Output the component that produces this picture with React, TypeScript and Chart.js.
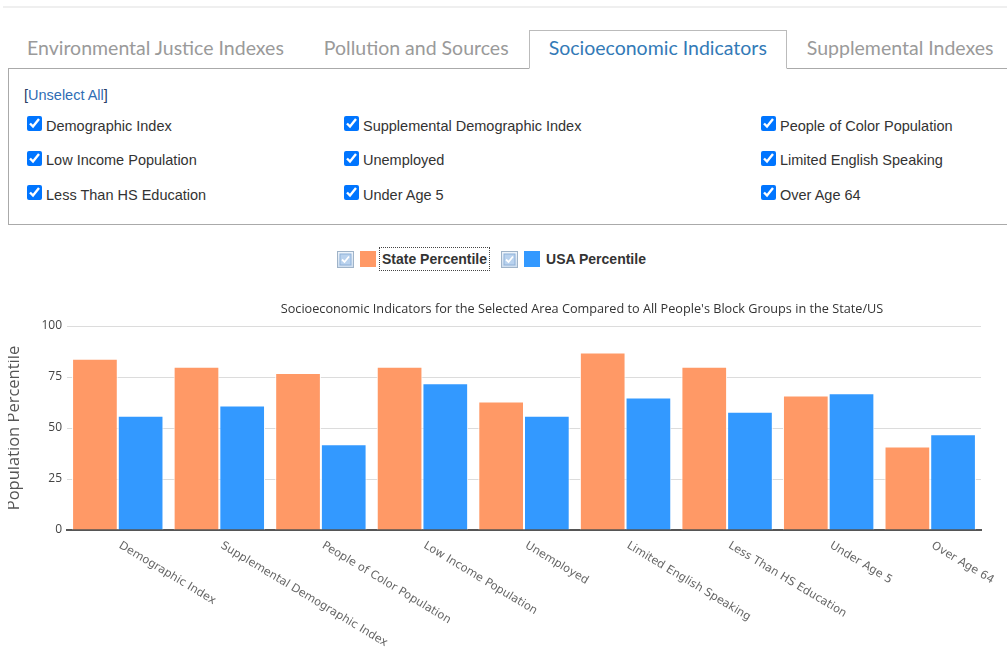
import React, { useEffect, useRef } from "react";
import { Chart, registerables } from "chart.js";

Chart.register(...registerables);

// ---------- data ----------
const categories = [
  "Demographic Index",
  "Supplemental Demographic Index",
  "People of Color Population",
  "Low Income Population",
  "Unemployed",
  "Limited English Speaking",
  "Less Than HS Education",
  "Under Age 5",
  "Over Age 64",
];
const statePercentile = [84, 80, 77, 80, 63, 87, 80, 66, 41];
const usaPercentile = [56, 61, 42, 72, 56, 65, 58, 67, 47];
const seriesNames = ["State Percentile", "USA Percentile"];
const seriesColors = ["#FF9966", "#3399FF"];
const yTicks = [0, 25, 50, 75, 100];
const chartTitle =
  "Socioeconomic Indicators for the Selected Area Compared to All People's Block Groups in the State/US";
const yAxisTitle = "Population Percentile";
const tabs = [
  "Environmental Justice Indexes",
  "Pollution and Sources",
  "Socioeconomic Indicators",
  "Supplemental Indexes",
];
const activeTab = "Socioeconomic Indicators";
const unselectLabel = "Unselect All";

// ---------- layout constants (HTML parts) ----------
const colX = [27, 344, 761];
const rowY = [116, 150.5, 185];

const rotatedLabels = {
  id: "rotatedLabels",
  afterDraw(chart: any) {
    const xs = chart.scales.x;
    const ctx = chart.ctx;
    ctx.save();
    ctx.font = '11.3px "DejaVu Sans"';
    ctx.fillStyle = "#666";
    ctx.textAlign = "left";
    ctx.textBaseline = "top";
    categories.forEach((label, i) => {
      const px = xs.getPixelForTick(i);
      ctx.save();
      ctx.translate(px + 5, xs.top + 10);
      ctx.rotate((31 * Math.PI) / 180);
      ctx.fillText(label, 0, 0);
      ctx.restore();
    });
    ctx.restore();
  },
};

function LegendCheck() {
  return (
    <span
      style={{
        display: "inline-block",
        width: 15,
        height: 15,
        border: "1px solid #9fb3c8",
        background: "linear-gradient(#eef4fb, #cfdff0)",
        position: "relative",
        boxSizing: "content-box",
      }}
    >
      <svg width="15" height="15" style={{ position: "absolute", left: 0, top: 0 }}>
        <rect x="2" y="2" width="11" height="11" fill="#b9d2ee" stroke="#8fb1d8" strokeWidth="1" />
        <polyline points="4,7.5 6.5,10 11,4.5" fill="none" stroke="#ffffff" strokeWidth="1.8" />
      </svg>
    </span>
  );
}

export default function App() {
  const ref = useRef<HTMLCanvasElement>(null);

  useEffect(() => {
    const chart = new Chart(ref.current as HTMLCanvasElement, {
      type: "bar",
      data: {
        labels: categories,
        datasets: [
          {
            label: seriesNames[0],
            data: statePercentile,
            backgroundColor: seriesColors[0],
            borderColor: "#ffffff",
            borderWidth: 1,
            categoryPercentage: 0.9,
            barPercentage: 1,
          },
          {
            label: seriesNames[1],
            data: usaPercentile,
            backgroundColor: seriesColors[1],
            borderColor: "#ffffff",
            borderWidth: 1,
            categoryPercentage: 0.9,
            barPercentage: 1,
          },
        ],
      },
      options: {
        responsive: true,
        maintainAspectRatio: false,
        animation: false,
        layout: { padding: 0 },
        plugins: {
          legend: { display: false },
          tooltip: { enabled: false },
          title: {
            display: true,
            text: chartTitle,
            color: "#333",
            font: { family: '"Open Sans"', size: 12.7, weight: "normal" },
            padding: { top: 16.5, bottom: 9.3 },
          },
        },
        scales: {
          x: {
            z: 1,
            grid: { display: false, drawTicks: false },
            border: { display: true, color: "#555", width: 2 },
            ticks: { display: false },
            afterFit(s: any) {
              s.height = 122;
            },
          },
          y: {
            min: 0,
            max: 100,
            afterBuildTicks(s: any) {
              s.ticks = yTicks.map((v) => ({ value: v }));
            },
            ticks: {
              padding: 5,
              color: "#444",
              font: { family: '"Open Sans"', size: 12 },
            },
            grid: { color: "#dcdcdc", lineWidth: 1, drawTicks: false },
            border: { display: false },
            title: {
              display: true,
              text: yAxisTitle,
              color: "#555",
              font: { family: '"Open Sans"', size: 16.5, lineHeight: 0.8 },
              padding: 0,
            },
            afterFit(s: any) {
              s.width = 59;
            },
          },
          y2: {
            type: "linear",
            position: "right",
            display: true,
            grid: { display: false, drawTicks: false },
            border: { display: false },
            ticks: { display: false },
            afterFit(s: any) {
              s.width = 175;
            },
          },
        },
      } as any,
      plugins: [rotatedLabels],
    });
    return () => chart.destroy();
  }, []);

  const rows: string[][] = [];
  for (let i = 0; i < categories.length; i += 3) rows.push(categories.slice(i, i + 3));

  const cbFont = '14.5px/17px "Liberation Sans", Arial, sans-serif';

  return (
    <div
      style={{
        position: "absolute",
        left: 0,
        top: 0,
        width: 1007,
        height: 652,
        overflow: "hidden",
        background: "#fff",
      }}
    >
      {/* top rule */}
      <div style={{ position: "absolute", left: 3, top: 6, width: 1004, height: 2, background: "#efefef" }} />

      {/* panel box */}
      <div
        style={{
          position: "absolute",
          left: 8,
          top: 68,
          width: 1020,
          height: 157,
          border: "1px solid #aaa",
          boxSizing: "border-box",
        }}
      />

      {/* tabs */}
      <div style={{ position: "absolute", left: 7, top: 30, display: "flex", whiteSpace: "nowrap" }}>
        {tabs.map((t) => {
          const active = t === activeTab;
          return (
            <div
              key={t}
              style={{
                height: 39,
                boxSizing: "border-box",
                padding: "0 19px",
                font: '19.5px/33px Lato, sans-serif',
                color: active ? "#337ab7" : "#9a9a9a",
                border: active ? "1px solid #bbb" : "1px solid transparent",
                borderBottom: active ? "1px solid #fff" : "1px solid transparent",
                background: active ? "#fff" : "transparent",
                position: "relative",
                zIndex: 2,
              }}
            >
              {t}
            </div>
          );
        })}
      </div>

      {/* unselect all */}
      <div style={{ position: "absolute", left: 24, top: 87, font: cbFont, color: "#2f6db5", whiteSpace: "nowrap" }}>
        <span style={{ color: "#2b3f66" }}>[</span>
        {unselectLabel}
        <span style={{ color: "#2b3f66" }}>]</span>
      </div>

      {/* checkbox grid */}
      {rows.map((row, r) =>
        row.map((label, c) => (
          <div key={label} style={{ position: "absolute", left: colX[c], top: rowY[r] }}>
            <input
              type="checkbox"
              defaultChecked
              style={{ position: "absolute", left: 0, top: 0, width: 15, height: 15, margin: 0 }}
            />
            <span
              style={{
                position: "absolute",
                left: 19,
                top: 1.5,
                whiteSpace: "nowrap",
                font: cbFont,
                color: "#333",
              }}
            >
              {label}
            </span>
          </div>
        ))
      )}

      {/* legend */}
      <div
        style={{
          position: "absolute",
          left: 337,
          top: 247,
          height: 24,
          display: "flex",
          alignItems: "center",
          whiteSpace: "nowrap",
          font: 'bold 14px/20px "Liberation Sans", Arial, sans-serif',
          color: "#333",
        }}
      >
        {seriesNames.map((name, i) => (
          <div key={name} style={{ display: "flex", alignItems: "center", marginRight: i === 0 ? 11 : 0 }}>
            <LegendCheck />
            <span
              style={{
                display: "inline-block",
                width: 16,
                height: 16,
                background: seriesColors[i],
                marginLeft: 6,
                marginRight: 3,
              }}
            />
            <span
              style={{
                padding: "1px 2px",
                border: i === 0 ? "1px dotted #444" : "1px solid transparent",
              }}
            >
              {name}
            </span>
          </div>
        ))}
      </div>

      {/* chart */}
      <div style={{ position: "absolute", left: 8, top: 285, width: 999, height: 367, overflow: "hidden" }}>
        <div style={{ position: "relative", width: 1148, height: 367 }}>
          <canvas ref={ref} />
        </div>
      </div>
    </div>
  );
}
